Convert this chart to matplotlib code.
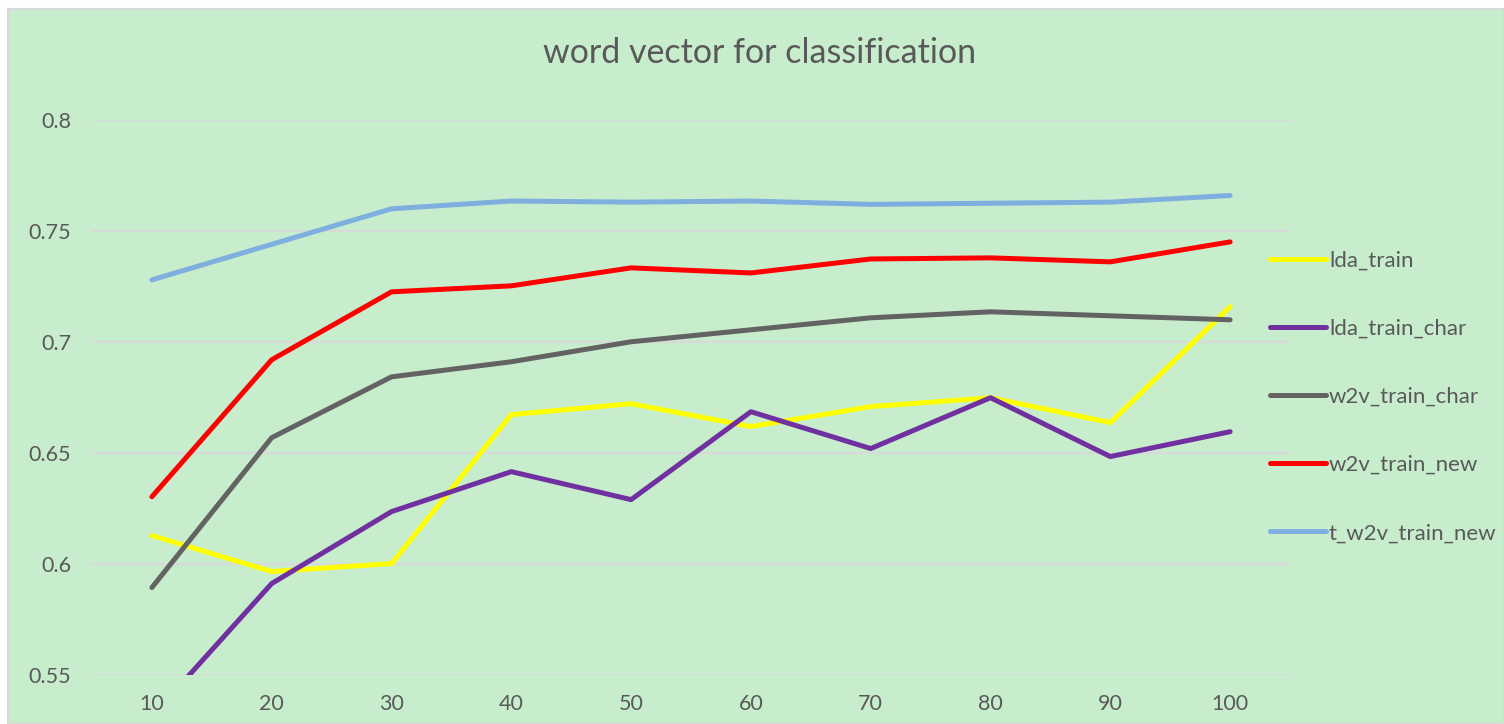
import matplotlib
matplotlib.use("Agg")
import matplotlib.pyplot as plt
import matplotlib.patches as patches

# values
sizes = [10, 20, 30, 40, 50, 60, 70, 80, 90, 100]
lda_train = [0.6128, 0.5966, 0.6002, 0.6673, 0.6722, 0.6619, 0.6709, 0.6749, 0.6637, 0.7159]
lda_train_char = [0.5313, 0.5912, 0.6236, 0.6416, 0.6290, 0.6686, 0.6520, 0.6749, 0.6484, 0.6596]
w2v_train_char = [0.5894, 0.6569, 0.6843, 0.6911, 0.7001, 0.7055, 0.7109, 0.7136, 0.7118, 0.7100]
w2v_train_new = [0.6303, 0.6920, 0.7226, 0.7253, 0.7334, 0.7311, 0.7374, 0.7379, 0.7361, 0.7451]
t_w2v_train_new = [0.7280, 0.7440, 0.7600, 0.7635, 0.7630, 0.7635, 0.7620, 0.7625, 0.7630, 0.7660]

series = [
    ("lda_train", lda_train, "#FFFF00"),
    ("lda_train_char", lda_train_char, "#7030A0"),
    ("w2v_train_char", w2v_train_char, "#636363"),
    ("w2v_train_new", w2v_train_new, "#FF0000"),
    ("t_w2v_train_new", t_w2v_train_new, "#7EAFDF"),
]

TXT = "#595959"
plt.rcParams['font.family'] = ['Lato', 'DejaVu Sans']

fig = plt.figure(figsize=(15.04, 7.24), dpi=100, facecolor="white")
# green chart area with thin border
bg = patches.Rectangle((8 / 1504, 0), 1 - 8 / 1504, 1 - 9 / 724, transform=fig.transFigure,
                       facecolor="#C7EDCD", edgecolor="#D9D9D9", linewidth=1.5, zorder=-10)
fig.patches.append(bg)

ax = fig.add_axes([92 / 1504, 49 / 724, 1198 / 1504, 555 / 724])
ax.set_zorder(2)
ax.set_facecolor("none")
x = list(range(len(sizes)))
for name, vals, col in series:
    ax.plot(x, vals, color=col, linewidth=3.6, label=name, solid_capstyle="round")

ax.set_xlim(-0.5, len(sizes) - 0.5)
ax.set_ylim(0.55, 0.8)
ax.set_yticks([0.55, 0.6, 0.65, 0.7, 0.75, 0.8])
ax.set_yticklabels(["0.55", "0.6", "0.65", "0.7", "0.75", "0.8"])
ax.set_xticks(x)
ax.set_xticklabels([str(s) for s in sizes])
ax.grid(axis="y", color="#D9D9D9", linewidth=1.5)
ax.set_axisbelow(True)
for s in ax.spines.values():
    s.set_visible(False)
ax.tick_params(length=0, labelsize=15.5, labelcolor=TXT)
ax.tick_params(axis="y", pad=15)
ax.tick_params(axis="x", pad=14)

fig.text(0.505, 0.927, "word vector for classification", ha="center", va="center",
         fontsize=24.5, color=TXT)

fig.legend(loc="center left", bbox_to_anchor=(1250 / 1504, 0.452), frameon=False,
           fontsize=16, labelcolor=TXT, handlelength=2.5, handletextpad=0.15,
           labelspacing=2.17)

fig.savefig("out.png", dpi=100, facecolor="white")
